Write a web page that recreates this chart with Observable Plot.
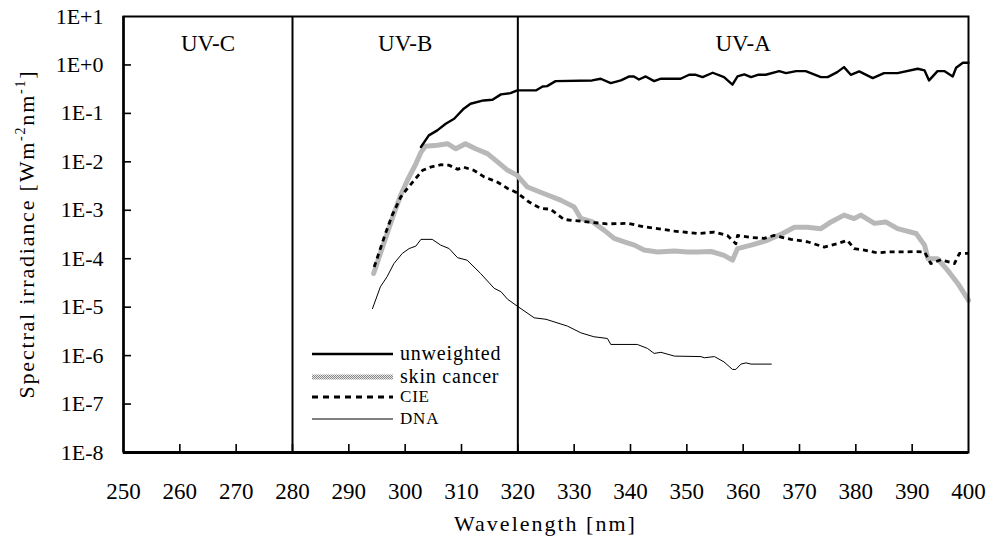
<!DOCTYPE html>
<html>
<head>
<meta charset="utf-8">
<script src="https://cdn.jsdelivr.net/npm/d3@7"></script>
<script src="https://cdn.jsdelivr.net/npm/@observablehq/plot@0.6"></script>
<style>
  html, body { margin: 0; padding: 0; background: #fff; }
  svg { font-family: "Liberation Serif", "Times New Roman", serif; }
</style>
</head>
<body>
<div id="chart"></div>
<script>
// ---- data ----
const xTicks = [250, 260, 270, 280, 290, 300, 310, 320, 330, 340, 350, 360, 370, 380, 390, 400];
const yTicks = [1e1, 1e0, 1e-1, 1e-2, 1e-3, 1e-4, 1e-5, 1e-6, 1e-7, 1e-8];
const yTickLabels = ["1E+1", "1E+0", "1E-1", "1E-2", "1E-3", "1E-4", "1E-5", "1E-6", "1E-7", "1E-8"];
const bandEdges = [280, 320];
const bandNames = ["UV-C", "UV-B", "UV-A"];
const bandCenters = [265, 300, 360];
const seriesNames = ["unweighted", "skin cancer", "CIE", "DNA"];

const unweightedWl = [302.8,304.2,305.7,307.2,308.7,310.4,311.6,313.9,315.5,317.0,318.7,319.9,323.2,324.4,325.2,326.7,333.2,334.7,336.5,338.3,339.8,340.6,341.5,342.7,344.2,345.4,348.9,350.4,351.6,352.8,354.6,356.6,358.1,359.0,360.2,361.4,362.6,364.0,366.4,367.6,369.4,371.1,373.8,375.0,376.7,377.9,379.1,380.6,383.0,385.0,387.4,391.0,392.2,393.0,394.5,395.7,397.2,397.8,399.0,400.0];
const unweightedVal = [0.0202,0.0352,0.0446,0.0612,0.0776,0.125,0.158,0.185,0.191,0.247,0.262,0.298,0.298,0.360,0.366,0.463,0.479,0.519,0.422,0.479,0.579,0.579,0.501,0.579,0.463,0.519,0.519,0.627,0.627,0.561,0.690,0.561,0.391,0.579,0.637,0.561,0.627,0.627,0.746,0.678,0.746,0.746,0.561,0.561,0.711,0.902,0.627,0.735,0.535,0.678,0.678,0.836,0.771,0.479,0.746,0.746,0.579,0.875,1.11,1.11];

const skinWl = [294.4,295.6,296.8,298.0,299.2,300.4,301.9,302.8,303.6,305.7,307.5,309.0,310.7,312.5,314.6,316.4,318.2,319.9,321.7,324.7,327.6,330.0,331.2,333.3,335.3,337.1,338.9,340.7,342.4,344.8,347.8,350.1,351.9,354.3,356.6,358.1,359.0,361.4,364.3,367.0,369.1,371.4,373.8,375.6,377.9,379.7,380.9,383.3,385.3,387.4,390.7,392.2,392.8,394.5,396.3,398.1,400.0];
const skinVal = [4.95e-5,1.29e-4,3.31e-4,8.51e-4,2.04e-3,4.17e-3,9.12e-3,1.58e-2,2.09e-2,2.19e-2,2.37e-2,1.86e-2,2.37e-2,1.86e-2,1.48e-2,1.00e-2,6.68e-3,5.25e-3,3.02e-3,2.19e-3,1.62e-3,1.17e-3,6.76e-4,5.75e-4,3.89e-4,2.63e-4,2.24e-4,1.91e-4,1.51e-4,1.38e-4,1.45e-4,1.38e-4,1.38e-4,1.41e-4,1.17e-4,9.33e-5,1.62e-4,1.91e-4,2.40e-4,3.31e-4,4.47e-4,4.47e-4,4.17e-4,5.75e-4,7.94e-4,6.76e-4,7.94e-4,5.37e-4,5.75e-4,4.17e-4,3.31e-4,1.91e-4,1.00e-4,1.00e-4,5.75e-5,3.09e-5,1.38e-5];

const cieWl = [294.5,295.4,296.5,297.7,299.2,300.4,301.6,303.1,304.5,306.3,307.8,309.3,310.4,312.2,314.0,316.4,318.2,319.9,322.0,324.0,325.8,328.2,332.3,335.8,339.5,342.4,344.8,347.8,351.9,354.9,357.2,358.7,359.0,361.4,363.7,365.5,368.5,371.4,374.4,376.7,378.5,379.7,381.5,383.8,385.6,388.6,390.4,392.2,393.3,395.1,397.5,398.4,400.0];
const cieVal = [6.76e-5,1.38e-4,3.31e-4,7.94e-4,1.86e-3,2.82e-3,4.17e-3,6.68e-3,7.76e-3,8.71e-3,8.51e-3,7.00e-3,7.76e-3,6.68e-3,4.90e-3,3.80e-3,2.82e-3,2.29e-3,1.48e-3,1.10e-3,1.05e-3,6.46e-4,5.75e-4,5.25e-4,5.37e-4,4.57e-4,4.17e-4,3.72e-4,3.31e-4,3.55e-4,3.02e-4,2.04e-4,3.02e-4,2.75e-4,2.63e-4,3.02e-4,2.51e-4,2.24e-4,1.74e-4,2.04e-4,2.40e-4,1.62e-4,1.51e-4,1.32e-4,1.38e-4,1.38e-4,1.41e-4,1.38e-4,7.94e-5,9.55e-5,7.94e-5,1.29e-4,1.29e-4];

const dnaWl = [294.2,295.6,296.8,298.0,299.5,300.7,301.9,302.8,304.8,306.3,307.8,309.3,311.0,313.4,315.8,317.0,318.2,319.9,322.9,325.0,328.8,331.2,333.5,335.9,336.5,341.2,343.0,344.2,345.4,347.8,352.5,353.1,354.9,356.6,358.1,358.7,359.6,360.5,361.4,365.0];
const dnaVal = [9.33e-6,2.63e-5,4.27e-5,7.94e-5,1.29e-4,1.62e-4,1.82e-4,2.51e-4,2.51e-4,1.91e-4,1.62e-4,1.05e-4,9.33e-5,4.95e-5,2.45e-5,2.09e-5,1.45e-5,1.05e-5,6.03e-6,5.62e-6,4.07e-6,2.95e-6,2.45e-6,2.26e-6,1.70e-6,1.70e-6,1.41e-6,1.11e-6,1.17e-6,9.77e-7,9.55e-7,9.02e-7,9.55e-7,7.41e-7,5.19e-7,5.19e-7,6.68e-7,7.08e-7,6.68e-7,6.68e-7];

// ---- build tables ----
const toRows = (wl, val) => wl.map((w, i) => ({w, v: val[i]}));
const unweighted = toRows(unweightedWl, unweightedVal);
const skin = toRows(skinWl, skinVal);
const cie = toRows(cieWl, cieVal);
const dna = toRows(dnaWl, dnaVal);

const W = 996, H = 543;
const mL = 123, mR = 28, mT = 16, mB = 91;
const plotW = W - mL - mR, plotH = H - mT - mB;
const font = "'Liberation Serif', 'Times New Roman', serif";

// pattern definition for the skin cancer stroke
const defs = () => {
  const d = d3.create("svg:defs");
  const p = d.append("pattern").attr("id", "skinpat").attr("patternUnits", "userSpaceOnUse")
    .attr("width", 2).attr("height", 2);
  p.append("rect").attr("width", 2).attr("height", 2).attr("fill", "#e6e6e6");
  p.append("rect").attr("x", 0).attr("y", 0).attr("width", 1).attr("height", 1).attr("fill", "#8a8a8a");
  p.append("rect").attr("x", 1).attr("y", 1).attr("width", 1).attr("height", 1).attr("fill", "#8a8a8a");
  return d.node();
};

const svg = Plot.plot({
  width: W,
  height: H,
  marginLeft: mL,
  marginRight: mR,
  marginTop: mT,
  marginBottom: mB,
  style: {fontFamily: font, background: "#fff", color: "#000"},
  x: {domain: [250, 400]},
  y: {type: "log", domain: [1e-8, 1e1]},
  marks: [
    defs,
    Plot.axisY({ticks: yTicks, tickFormat: d => yTickLabels[yTicks.indexOf(d)], tickSize: 0, tickPadding: 20, fontSize: 22, label: null}),
    Plot.axisX({ticks: xTicks, tickSize: 0, tickPadding: 30, fontSize: 23, label: null}),
    Plot.tickY(yTicks.slice(1, -1), {y: d => d, insetRight: plotW - 8, stroke: "#000", strokeWidth: 1.6}),
    Plot.tickX(xTicks.slice(1, -1), {x: d => d, insetTop: plotH - 8, stroke: "#000", strokeWidth: 1.6}),
    Plot.ruleX(bandEdges, {stroke: "#000", strokeWidth: 2}),
    Plot.text(bandNames, {x: (d, i) => bandCenters[i], text: d => d, frameAnchor: "top", dy: 27, fontSize: 23, lineAnchor: "middle", fill: "#000"}),
    Plot.line(dna, {x: "w", y: "v", stroke: "#000", strokeWidth: 1}),
    Plot.line(skin, {x: "w", y: "v", stroke: "url(#skinpat)", strokeWidth: 5}),
    Plot.line(cie, {x: "w", y: "v", stroke: "#000", strokeWidth: 2.8, strokeDasharray: "5,4", strokeLinecap: "butt"}),
    Plot.line(unweighted, {x: "w", y: "v", stroke: "#000", strokeWidth: 2.4}),
    Plot.frame({stroke: "#000", strokeWidth: 2}),
    Plot.ruleX([250], {stroke: "#000", strokeWidth: 2.5}),
    Plot.ruleY([1e-8], {stroke: "#000", strokeWidth: 3})
  ]
});

const s = d3.select(svg);
// y-axis title with superscripts
const yt = s.append("text")
  .attr("transform", `translate(34,${mT + plotH / 2}) rotate(-90)`)
  .attr("text-anchor", "middle")
  .attr("font-family", font)
  .attr("font-size", 22)
  .attr("letter-spacing", 1.8)
  .attr("fill", "#000");
yt.append("tspan").text("Spectral irradiance [Wm");
yt.append("tspan").attr("font-size", 14).attr("dy", -9).text("-2");
yt.append("tspan").attr("dy", 9).text("nm");
yt.append("tspan").attr("font-size", 14).attr("dy", -9).text("-1");
yt.append("tspan").attr("dy", 9).text("]");

// x-axis title
s.append("text")
  .attr("x", mL + plotW / 2).attr("y", 531)
  .attr("text-anchor", "middle")
  .attr("font-family", font)
  .attr("font-size", 22)
  .attr("letter-spacing", 2)
  .attr("fill", "#000")
  .text("Wavelength [nm]");

// legend inside plot
const legend = s.append("g").attr("font-family", font).attr("fill", "#000").attr("text-anchor", "start");
const rows = [
  {name: seriesNames[0], y: 354, stroke: "#000", w: 2.3, dash: null, fs: 20},
  {name: seriesNames[1], y: 377, stroke: "url(#skinpat)", w: 5, dash: null, fs: 20},
  {name: seriesNames[2], y: 397, stroke: "#000", w: 3, dash: "6,5", fs: 17},
  {name: seriesNames[3], y: 419, stroke: "#000", w: 1, dash: null, fs: 17}
];
rows.forEach(r => {
  legend.append("line").attr("x1", 312).attr("x2", 393).attr("y1", r.y).attr("y2", r.y)
    .attr("stroke", r.stroke).attr("stroke-width", r.w).attr("stroke-dasharray", r.dash);
  legend.append("text").attr("x", 400).attr("y", r.y).attr("dy", "0.32em")
    .attr("text-anchor", "start")
    .attr("font-size", r.fs).attr("letter-spacing", 0.8).text(r.name);
});

document.getElementById("chart").append(svg);
</script>
</body>
</html>
